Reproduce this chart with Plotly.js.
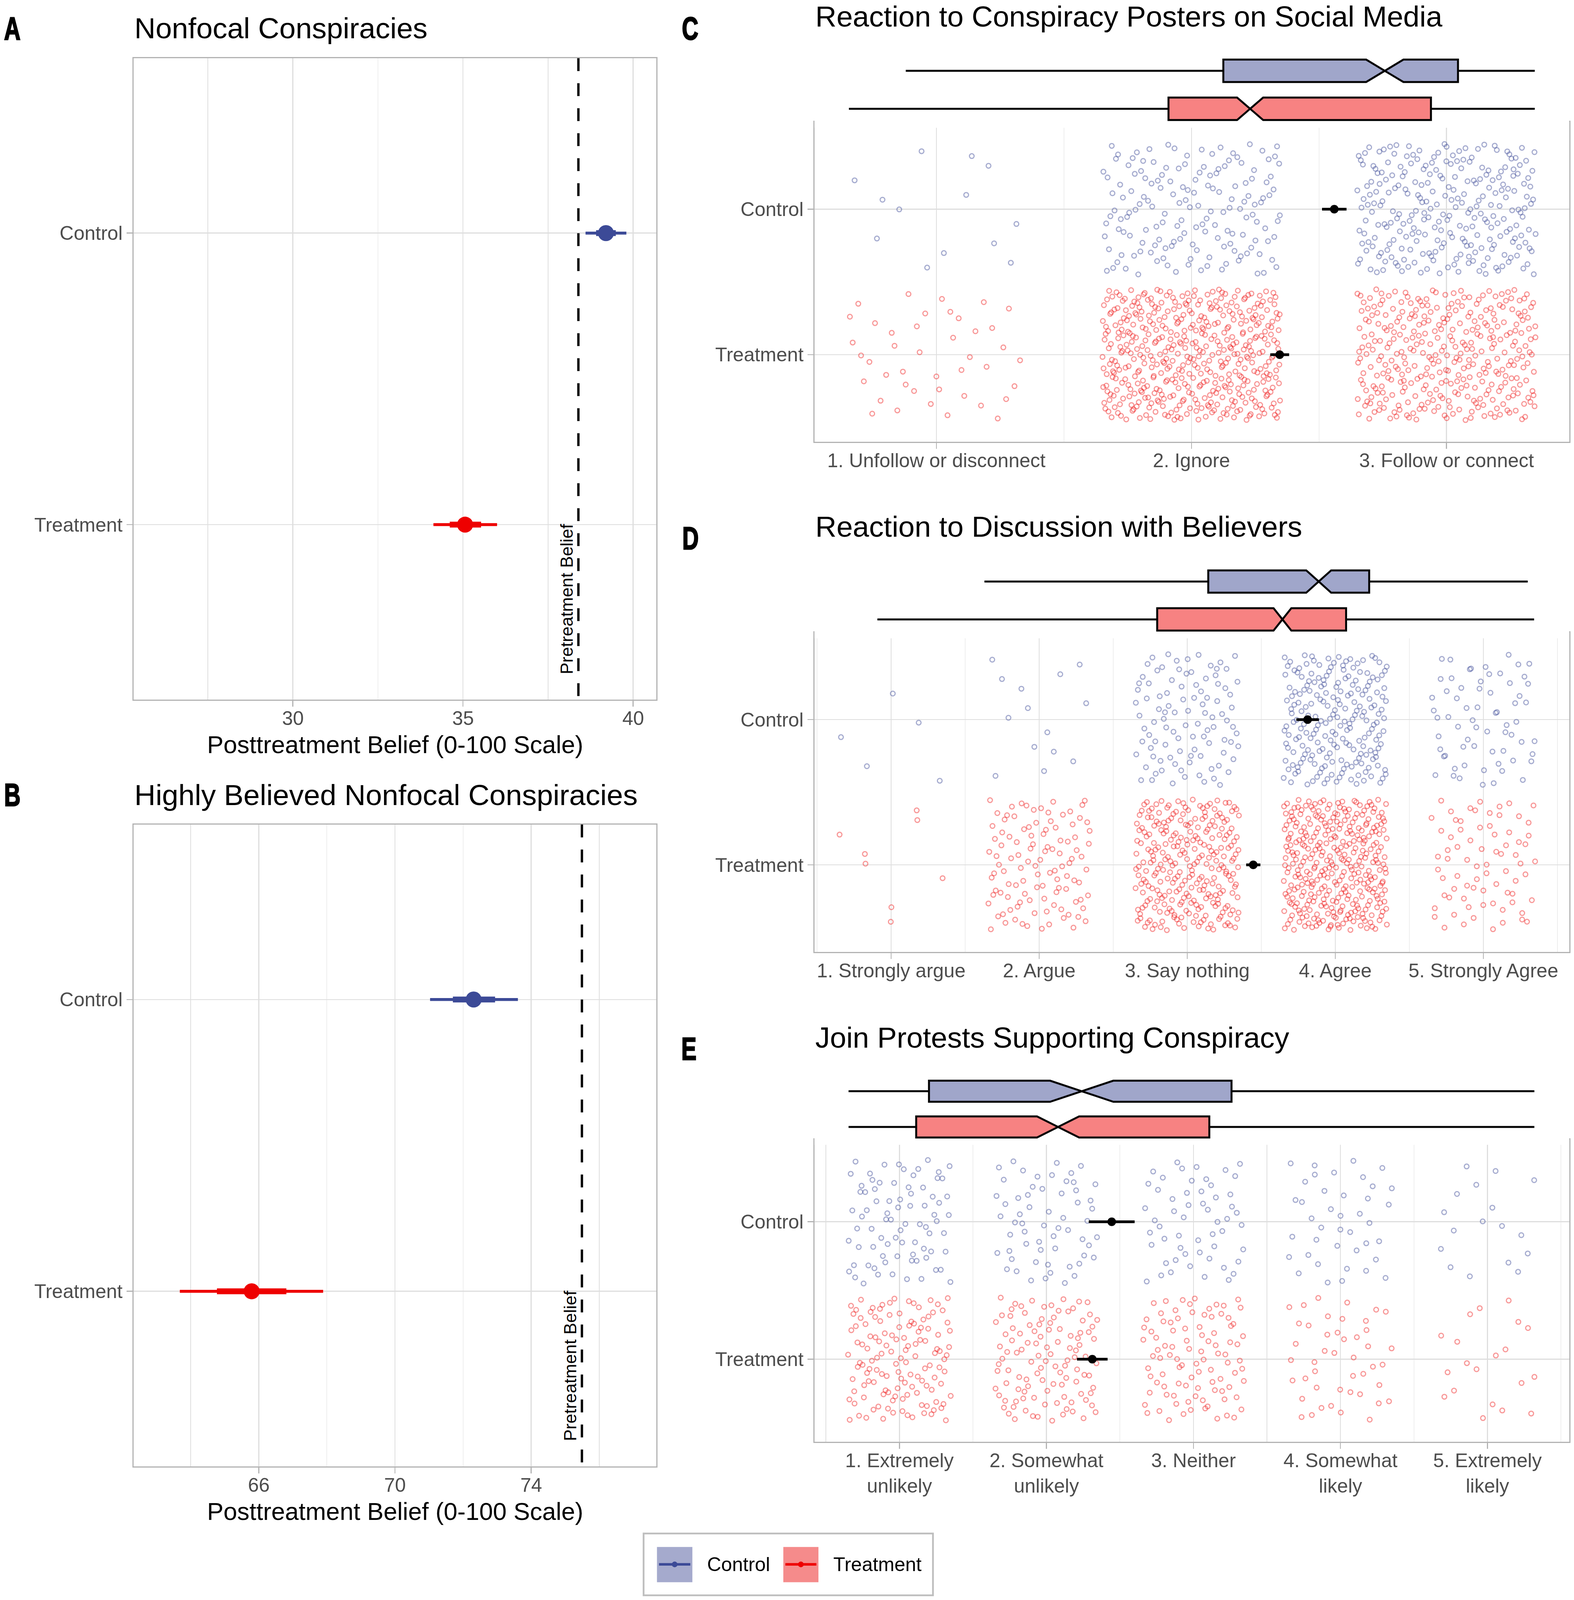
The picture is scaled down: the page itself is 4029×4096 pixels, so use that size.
<!DOCTYPE html>
<html><head><meta charset="utf-8">
<script src="https://cdn.plot.ly/plotly-3.0.1.min.js"></script>
<style>html,body{margin:0;padding:0;background:#fff;} #chart{width:4029px;height:4096px;}</style>
</head><body><div id="chart"></div>
<script>
// ================= DATA =================
const groups = ['Treatment', 'Control'];            // y index 0 = Treatment, 1 = Control

// Panel A: Nonfocal conspiracies (posttreatment belief)
const aEstimate = [35.06, 39.20];
const aLo95     = [34.13, 38.60];
const aHi95     = [36.00, 39.80];
const aLoInner  = [34.61, 38.91];
const aHiInner  = [35.53, 39.49];
const aPretreatment = 38.39;
const aTicks = [30, 35, 40];
const aMinorTicks = [27.5, 32.5, 37.5];

// Panel B: Highly believed nonfocal conspiracies
const bEstimate = [65.79, 72.31];
const bLo95     = [63.68, 71.03];
const bHi95     = [67.89, 73.61];
const bLoInner  = [64.77, 71.70];
const bHiInner  = [66.81, 72.94];
const bPretreatment = 75.49;
const bTicks = [66, 70, 74];
const bMinorTicks = [64, 68, 72, 76];

// Panel C: Reaction to conspiracy posters on social media
const cCategories = ['1. Unfollow or disconnect', '2. Ignore', '3. Follow or connect'];
const cCountsTreatment = [42, 460, 340];
const cCountsControl   = [13, 160, 260];
const cMean   = [2.346, 2.560];
const cMeanCI = [0.037, 0.048];
const cBoxLowerFence = [0.657, 0.880];
const cBoxQ1         = [1.910, 2.125];
const cBoxMedian     = [2.230, 2.758];
const cBoxQ3         = [2.939, 3.045];
const cBoxUpperFence = [3.346, 3.346];
const cBoxNotch      = [0.051, 0.073];

// Panel D: Reaction to discussion with believers
const dCategories = ['1. Strongly argue', '2. Argue', '3. Say nothing', '4. Agree', '5. Strongly Agree'];
const dCountsTreatment = [8, 110, 270, 340, 75];
const dCountsControl   = [5, 14, 100, 210, 65];
const dMean   = [3.446, 3.813];
const dMeanCI = [0.048, 0.076];
const dBoxLowerFence = [0.907, 1.630];
const dBoxQ1         = [2.797, 3.142];
const dBoxMedian     = [3.643, 3.888];
const dBoxQ3         = [4.073, 4.229];
const dBoxUpperFence = [5.343, 5.300];
const dBoxNotch      = [0.060, 0.084];

// Panel E: Join protests supporting conspiracy
const eCategories = ['1. Extremely<br>unlikely', '2. Somewhat<br>unlikely', '3. Neither', '4. Somewhat<br>likely', '5. Extremely<br>likely'];
const eCountsTreatment = [130, 110, 95, 45, 20];
const eCountsControl   = [80, 60, 55, 40, 17];
const eMean   = [2.312, 2.444];
const eMeanCI = [0.104, 0.156];
const eBoxLowerFence = [0.654, 0.654];
const eBoxQ1         = [1.114, 1.201];
const eBoxMedian     = [2.079, 2.240];
const eBoxQ3         = [3.108, 3.259];
const eBoxUpperFence = [5.319, 5.319];
const eBoxNotch      = [0.143, 0.215];

// ================= STYLE / LAYOUT =================
const SW = 1542, SH = 1568;                 // layout grid units
const fx = x => x / SW;
const fy = y => 1 - y / SH;
const FONT = 'Liberation Sans, Arial, Helvetica, sans-serif';
const CTRL = '#3C4A97', TREAT = '#EE0000';
const GROUP_COLOR = [TREAT, CTRL];
const GROUP_PT = ['rgba(238,0,0,0.40)', 'rgba(60,74,151,0.45)'];
const GROUP_BOX = ['#F78282', '#A0A6CA'];
const JITTER_W = 0.35, JITTER_H = 0.45;

const traces = [];

// ---- point ranges (A, B)
function pointRange(est, lo, hi, loIn, hiIn, xa, ya) {
  for (let g = 0; g < 2; g++) {
    traces.push({type:'scatter', mode:'lines', x:[lo[g], hi[g]], y:[g, g], xaxis:xa, yaxis:ya,
      line:{color:GROUP_COLOR[g], width:7.5}, hoverinfo:'skip', showlegend:false});
    traces.push({type:'scatter', mode:'lines', x:[loIn[g], hiIn[g]], y:[g, g], xaxis:xa, yaxis:ya,
      line:{color:GROUP_COLOR[g], width:15}, hoverinfo:'skip', showlegend:false});
    traces.push({type:'scatter', mode:'markers', x:[est[g]], y:[g], xaxis:xa, yaxis:ya,
      marker:{color:GROUP_COLOR[g], size:41}, hoverinfo:'skip', showlegend:false});
  }
}
pointRange(aEstimate, aLo95, aHi95, aLoInner, aHiInner, 'x', 'y');
pointRange(bEstimate, bLo95, bHi95, bLoInner, bHiInner, 'x2', 'y2');

// ---- deterministic (low-discrepancy) jitter spread of the categorical responses
function halton(index, base) {
  let f = 1, r = 0, i = index;
  while (i > 0) { f /= base; r += f * (i % base); i = Math.floor(i / base); }
  return r;
}
let jitterIndex = 1;
function jitter(counts, g) {
  const xs = [], ys = [];
  counts.forEach((n, k) => {
    for (let i = 0; i < n; i++) {
      xs.push(k + 1 + (halton(jitterIndex, 2) - 0.5) * 2 * JITTER_W);
      ys.push(g + (halton(jitterIndex, 3) - 0.5) * 2 * JITTER_H);
      jitterIndex++;
    }
  });
  return {xs, ys};
}

function ordinalPanel(countsT, countsC, mean, meanCI, lf, q1, med, q3, uf, notch, xa, ya, xb, yb) {
  [countsT, countsC].forEach((counts, g) => {
    const p = jitter(counts, g);
    traces.push({type:'scatter', mode:'markers', x:p.xs, y:p.ys, xaxis:xa, yaxis:ya,
      marker:{symbol:'circle-open', size:12, color:GROUP_PT[g], line:{width:3}},
      hoverinfo:'skip', showlegend:false});
  });
  traces.push({type:'scatter', mode:'markers', x:mean, y:[0, 1], xaxis:xa, yaxis:ya,
    marker:{color:'black', size:22},
    error_x:{type:'data', array:meanCI, visible:true, thickness:7, width:0, color:'black'},
    hoverinfo:'skip', showlegend:false});
  for (let g = 0; g < 2; g++) {
    traces.push({type:'box', orientation:'h', xaxis:xb, yaxis:yb, y:[g],
      q1:[q1[g]], median:[med[g]], q3:[q3[g]], lowerfence:[lf[g]], upperfence:[uf[g]],
      notchspan:[notch[g]], notched:true, notchwidth:0.5, width:0.59, whiskerwidth:0,
      boxpoints:false, fillcolor:GROUP_BOX[g], line:{color:'black', width:5},
      hoverinfo:'skip', showlegend:false});
  }
}
ordinalPanel(cCountsTreatment, cCountsControl, cMean, cMeanCI, cBoxLowerFence, cBoxQ1, cBoxMedian, cBoxQ3, cBoxUpperFence, cBoxNotch, 'x3', 'y3', 'x6', 'y6');
ordinalPanel(dCountsTreatment, dCountsControl, dMean, dMeanCI, dBoxLowerFence, dBoxQ1, dBoxMedian, dBoxQ3, dBoxUpperFence, dBoxNotch, 'x4', 'y4', 'x7', 'y7');
ordinalPanel(eCountsTreatment, eCountsControl, eMean, eMeanCI, eBoxLowerFence, eBoxQ1, eBoxMedian, eBoxQ3, eBoxUpperFence, eBoxNotch, 'x5', 'y5', 'x8', 'y8');

// ---- axes
const tickFont = {family:FONT, size:50, color:'#4D4D4D'};
function mainAxis(extra) {
  return Object.assign({
    showline:true, mirror:true, linecolor:'#B3B3B3', linewidth:3,
    showgrid:true, gridcolor:'#DEDEDE', gridwidth:2.5, zeroline:false,
    ticks:'outside', ticklen:15, tickwidth:2.5, tickcolor:'#B3B3B3',
    tickfont:tickFont, fixedrange:true
  }, extra);
}
function minorGrid(vals) {
  return {tickmode:'array', tickvals:vals, showgrid:true, gridcolor:'#DEDEDE', gridwidth:1.4, ticks:''};
}
const halfSteps = n => Array.from({length:n + 1}, (_, k) => k + 0.5);
const yCat = (dom) => mainAxis({domain:dom, range:[-0.6, 1.6], tickmode:'array', tickvals:[0, 1], ticktext:groups});
const xMain = (extra) => mainAxis(Object.assign({ticklabelstandoff:-13}, extra));
const hiddenBoxY = (dom) => ({domain:dom, range:[-0.5, 1.5], visible:false, fixedrange:true});

const AX = [130.8, 642.8], CX = [797.9, 1537.3];
const dx = a => [fx(a[0]), fx(a[1])];
const dy = (top, bot) => [fy(bot), fy(top)];
const cRange = [0.522, 3.481], dRange = [0.482, 5.58], eRange = [0.422, 5.556];

const layout = {
  width:4029, height:4096, margin:{l:0, r:0, t:0, b:0},
  paper_bgcolor:'white', plot_bgcolor:'white', showlegend:false,
  font:{family:FONT},
  xaxis: xMain({domain:dx(AX), range:[25.316, 40.675], anchor:'y', tickmode:'array', tickvals:aTicks, minor:minorGrid(aMinorTicks)}),
  yaxis: yCat(dy(57, 685.6)),
  xaxis2: xMain({domain:dx(AX), range:[62.32, 77.67], anchor:'y2', tickmode:'array', tickvals:bTicks, minor:minorGrid(bMinorTicks)}),
  yaxis2: yCat(dy(808, 1437)),
  xaxis3: xMain({domain:dx(CX), range:cRange, anchor:'y3', tickmode:'array', tickvals:cCategories.map((_, k) => k + 1), ticktext:cCategories, minor:minorGrid(halfSteps(cCategories.length))}),
  yaxis3: yCat(dy(119.5, 433.1)),
  xaxis4: xMain({domain:dx(CX), range:dRange, anchor:'y4', tickmode:'array', tickvals:dCategories.map((_, k) => k + 1), ticktext:dCategories, minor:minorGrid(halfSteps(dCategories.length))}),
  yaxis4: yCat(dy(619.8, 933)),
  xaxis5: xMain({domain:dx(CX), range:eRange, anchor:'y5', tickmode:'array', tickvals:eCategories.map((_, k) => k + 1), ticktext:eCategories, minor:minorGrid(halfSteps(eCategories.length))}),
  yaxis5: yCat(dy(1116.5, 1412.8)),
  xaxis6: {domain:dx(CX), range:cRange, visible:false, anchor:'y6', fixedrange:true},
  yaxis6: hiddenBoxY(dy(50.8, 125.2)),
  xaxis7: {domain:dx(CX), range:dRange, visible:false, anchor:'y7', fixedrange:true},
  yaxis7: hiddenBoxY(dy(551.35, 625.55)),
  xaxis8: {domain:dx(CX), range:eRange, visible:false, anchor:'y8', fixedrange:true},
  yaxis8: hiddenBoxY(dy(1051.9, 1121.9)),
  shapes: [],
  annotations: []
};
layout.yaxis.anchor = 'x'; layout.yaxis2.anchor = 'x2'; layout.yaxis3.anchor = 'x3';
layout.yaxis4.anchor = 'x4'; layout.yaxis5.anchor = 'x5';

// ---- pretreatment reference lines
[[aPretreatment, 'x', 'y'], [bPretreatment, 'x2', 'y2']].forEach(([v, xa, ya]) => {
  layout.shapes.push({type:'line', xref:xa, yref:ya + ' domain', x0:v, x1:v, y0:1, y1:0,
    line:{color:'black', width:6, dash:'33px,31px'}});
  layout.annotations.push({xref:xa, yref:ya, x:v, y:-0.5, xanchor:'right', yanchor:'bottom',
    xshift:-3, yshift:-12, textangle:-90, text:'Pretreatment Belief', showarrow:false,
    font:{family:FONT, size:45, color:'black'}});
});

// ---- text: letters, titles, axis titles
const letters = [['A', 12.2, 27.6], ['B', 12.2, 779], ['C', 676, 27.6], ['D', 676.5, 527.3], ['E', 675, 1027.7]];
letters.forEach(([t, x, y]) => layout.annotations.push({xref:'paper', yref:'paper', x:fx(x), y:fy(y),
  xanchor:'center', yanchor:'middle', text:'<b>' + t + '</b>', showarrow:false, name:'panel-letter',
  font:{family:FONT, size:82, color:'black'}}));
const titles = [['Nonfocal Conspiracies', 131, 27.7], ['Highly Believed Nonfocal Conspiracies', 131, 779],
  ['Reaction to Conspiracy Posters on Social Media', 798, 16], ['Reaction to Discussion with Believers', 798, 516.2],
  ['Join Protests Supporting Conspiracy', 798, 1016.6]];
titles.forEach(([t, x, y]) => layout.annotations.push({xref:'paper', yref:'paper', x:fx(x), y:fy(y),
  xanchor:'left', yanchor:'middle', text:t, showarrow:false, font:{family:FONT, size:75, color:'black'}}));
[729.8, 1481.2].forEach(y => layout.annotations.push({xref:'paper', yref:'paper', x:fx(387), y:fy(y),
  xanchor:'center', yanchor:'middle', text:'Posttreatment Belief (0-100 Scale)', showarrow:false,
  font:{family:FONT, size:63, color:'black'}}));

// ---- legend (drawn manually)
layout.shapes.push({type:'rect', xref:'paper', yref:'paper', x0:fx(630.5), x1:fx(914), y0:fy(1563.4), y1:fy(1502.8),
  line:{color:'#BEBEBE', width:4.5}, fillcolor:'white'});
const legendKeys = [[groups[1], 643.6, 678.3, 692, '#A5AACD', CTRL], [groups[0], 767.4, 801.8, 815.7, '#F58B8B', TREAT]];
legendKeys.forEach(([label, x0, x1, tx, fill, col]) => {
  layout.shapes.push({type:'rect', xref:'paper', yref:'paper', x0:fx(x0), x1:fx(x1), y0:fy(1550.6), y1:fy(1516),
    line:{width:0}, fillcolor:fill});
  layout.shapes.push({type:'line', xref:'paper', yref:'paper', x0:fx(x0 + 2), x1:fx(x1 - 2), y0:fy(1533.1), y1:fy(1533.1),
    line:{color:col, width:6.5}});
  const cx = (x0 + x1) / 2;
  layout.shapes.push({type:'circle', xref:'paper', yref:'paper', x0:fx(cx - 2.8), x1:fx(cx + 2.8), y0:fy(1535.9), y1:fy(1530.3),
    line:{width:0}, fillcolor:col});
  layout.annotations.push({xref:'paper', yref:'paper', x:fx(tx), y:fy(1533.1), xanchor:'left', yanchor:'middle',
    text:label, showarrow:false, font:{family:FONT, size:50, color:'black'}});
});

Plotly.newPlot('chart', traces, layout, {staticPlot:true, displayModeBar:false}).then(() => {
  // condense the bold panel letters horizontally (reference uses a heavy condensed bold face)
  const targetWidthA = 42;   // px width of letter "A" in the reference at this scale
  const texts = Array.from(document.querySelectorAll('.annotation-text')).filter(t => /^[A-E]$/.test(t.textContent.trim()));
  const aText = texts.find(t => t.textContent.trim() === 'A');
  const s = aText ? Math.min(1, targetWidthA / aText.getBBox().width) : 0.75;
  texts.forEach(t => {
    t.style.transformBox = 'fill-box';
    t.style.transformOrigin = 'center';
    t.style.transform = 'scaleX(' + s.toFixed(3) + ')';
    t.style.stroke = 'black';
    t.style.strokeWidth = '3px';
    t.style.strokeLinejoin = 'miter';
  });
});
</script>
</body></html>
